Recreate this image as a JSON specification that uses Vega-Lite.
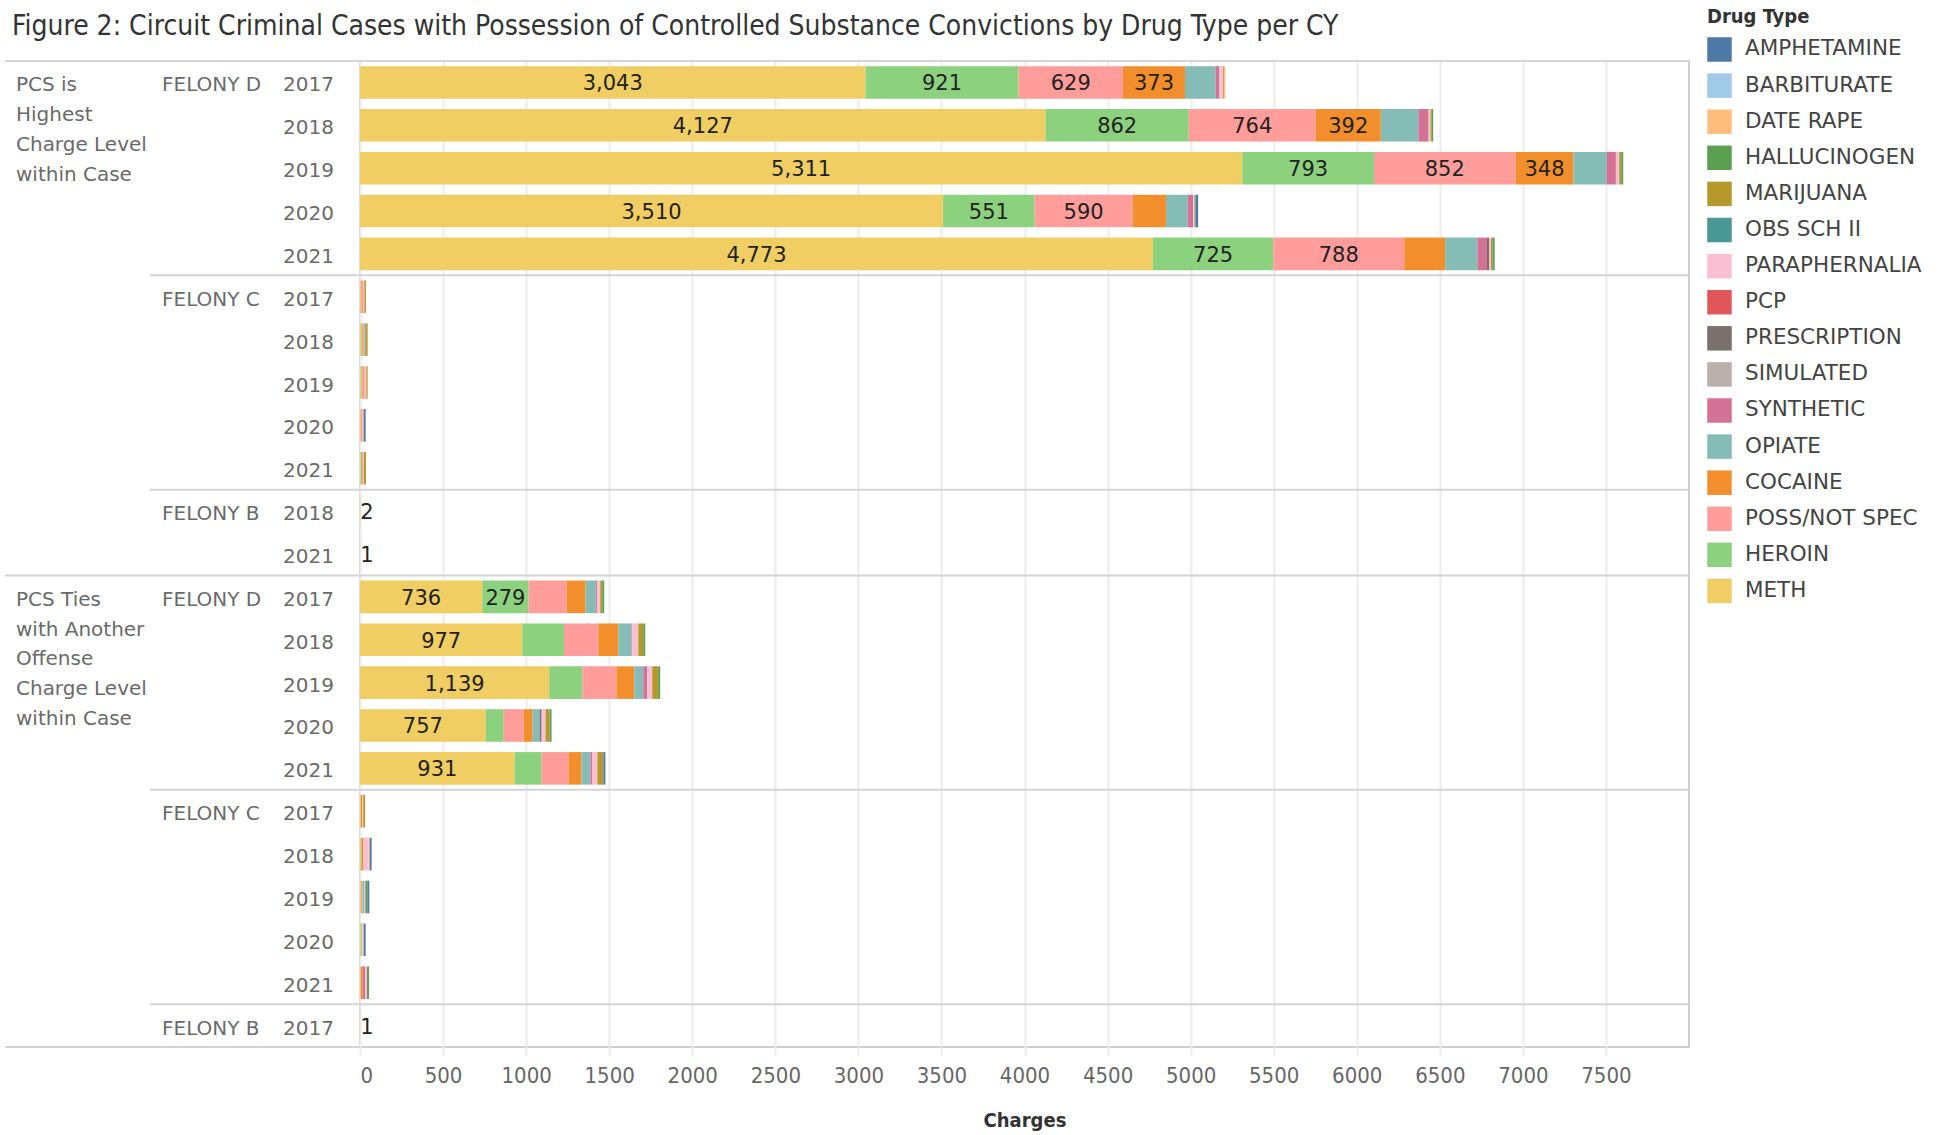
{
  "$schema": "https://vega.github.io/schema/vega-lite/v6.json",
  "padding": {"left": 4, "top": 7, "right": 0, "bottom": 0},
  "title": {
    "text": "Figure 2: Circuit Criminal Cases with Possession of Controlled Substance Convictions by Drug Type per CY",
    "anchor": "start", "frame": "bounds", "dx": 8, "offset": -34.5,
    "font": "DejaVu Sans Condensed", "fontSize": 28, "fontWeight": "normal", "color": "#333333"
  },
  "datasets": {
    "sections": [
      {"key": "H|D|2017", "label": "FELONY D"},
      {"key": "H|C|2017", "label": "FELONY C"},
      {"key": "H|B|2018", "label": "FELONY B"},
      {"key": "T|D|2017", "label": "FELONY D"},
      {"key": "T|C|2017", "label": "FELONY C"},
      {"key": "T|B|2017", "label": "FELONY B"}
    ],
    "groups": [
      {"key": "H|D|2017", "label": "PCS is\nHighest\nCharge Level\nwithin Case"},
      {"key": "T|D|2017", "label": "PCS Ties\nwith Another\nOffense\nCharge Level\nwithin Case"}
    ],
    "bottom": [{"key": "T|B|2017"}],
    "main": [
      {"key": "H|D|2017", "yr": "2017", "drug": "METH", "n": 3043},
      {"key": "H|D|2017", "yr": "2017", "drug": "HEROIN", "n": 921},
      {"key": "H|D|2017", "yr": "2017", "drug": "POSS/NOT SPEC", "n": 629},
      {"key": "H|D|2017", "yr": "2017", "drug": "COCAINE", "n": 373},
      {"key": "H|D|2017", "yr": "2017", "drug": "OPIATE", "n": 185},
      {"key": "H|D|2017", "yr": "2017", "drug": "SYNTHETIC", "n": 20},
      {"key": "H|D|2017", "yr": "2017", "drug": "PARAPHERNALIA", "n": 25},
      {"key": "H|D|2017", "yr": "2017", "drug": "MARIJUANA", "n": 5},
      {"key": "H|D|2017", "yr": "2017", "drug": "DATE RAPE", "n": 8},
      {"key": "H|D|2018", "yr": "2018", "drug": "METH", "n": 4127},
      {"key": "H|D|2018", "yr": "2018", "drug": "HEROIN", "n": 862},
      {"key": "H|D|2018", "yr": "2018", "drug": "POSS/NOT SPEC", "n": 764},
      {"key": "H|D|2018", "yr": "2018", "drug": "COCAINE", "n": 392},
      {"key": "H|D|2018", "yr": "2018", "drug": "OPIATE", "n": 226},
      {"key": "H|D|2018", "yr": "2018", "drug": "SYNTHETIC", "n": 58},
      {"key": "H|D|2018", "yr": "2018", "drug": "PRESCRIPTION", "n": 3},
      {"key": "H|D|2018", "yr": "2018", "drug": "PARAPHERNALIA", "n": 12},
      {"key": "H|D|2018", "yr": "2018", "drug": "MARIJUANA", "n": 8},
      {"key": "H|D|2018", "yr": "2018", "drug": "HALLUCINOGEN", "n": 8},
      {"key": "H|D|2019", "yr": "2019", "drug": "METH", "n": 5311},
      {"key": "H|D|2019", "yr": "2019", "drug": "HEROIN", "n": 793},
      {"key": "H|D|2019", "yr": "2019", "drug": "POSS/NOT SPEC", "n": 852},
      {"key": "H|D|2019", "yr": "2019", "drug": "COCAINE", "n": 348},
      {"key": "H|D|2019", "yr": "2019", "drug": "OPIATE", "n": 200},
      {"key": "H|D|2019", "yr": "2019", "drug": "SYNTHETIC", "n": 55},
      {"key": "H|D|2019", "yr": "2019", "drug": "PCP", "n": 3},
      {"key": "H|D|2019", "yr": "2019", "drug": "PARAPHERNALIA", "n": 18},
      {"key": "H|D|2019", "yr": "2019", "drug": "MARIJUANA", "n": 12},
      {"key": "H|D|2019", "yr": "2019", "drug": "HALLUCINOGEN", "n": 12},
      {"key": "H|D|2020", "yr": "2020", "drug": "METH", "n": 3510},
      {"key": "H|D|2020", "yr": "2020", "drug": "HEROIN", "n": 551},
      {"key": "H|D|2020", "yr": "2020", "drug": "POSS/NOT SPEC", "n": 590},
      {"key": "H|D|2020", "yr": "2020", "drug": "COCAINE", "n": 201},
      {"key": "H|D|2020", "yr": "2020", "drug": "OPIATE", "n": 131},
      {"key": "H|D|2020", "yr": "2020", "drug": "SYNTHETIC", "n": 33},
      {"key": "H|D|2020", "yr": "2020", "drug": "PARAPHERNALIA", "n": 8},
      {"key": "H|D|2020", "yr": "2020", "drug": "HALLUCINOGEN", "n": 6},
      {"key": "H|D|2020", "yr": "2020", "drug": "AMPHETAMINE", "n": 15},
      {"key": "H|D|2021", "yr": "2021", "drug": "METH", "n": 4773},
      {"key": "H|D|2021", "yr": "2021", "drug": "HEROIN", "n": 725},
      {"key": "H|D|2021", "yr": "2021", "drug": "POSS/NOT SPEC", "n": 788},
      {"key": "H|D|2021", "yr": "2021", "drug": "COCAINE", "n": 246},
      {"key": "H|D|2021", "yr": "2021", "drug": "OPIATE", "n": 194},
      {"key": "H|D|2021", "yr": "2021", "drug": "SYNTHETIC", "n": 58},
      {"key": "H|D|2021", "yr": "2021", "drug": "PRESCRIPTION", "n": 12},
      {"key": "H|D|2021", "yr": "2021", "drug": "PARAPHERNALIA", "n": 12},
      {"key": "H|D|2021", "yr": "2021", "drug": "MARIJUANA", "n": 8},
      {"key": "H|D|2021", "yr": "2021", "drug": "HALLUCINOGEN", "n": 14},
      {"key": "H|C|2017", "yr": "2017", "drug": "METH", "n": 6},
      {"key": "H|C|2017", "yr": "2017", "drug": "POSS/NOT SPEC", "n": 12},
      {"key": "H|C|2017", "yr": "2017", "drug": "PARAPHERNALIA", "n": 8},
      {"key": "H|C|2017", "yr": "2017", "drug": "MARIJUANA", "n": 10},
      {"key": "H|C|2018", "yr": "2018", "drug": "METH", "n": 8},
      {"key": "H|C|2018", "yr": "2018", "drug": "HEROIN", "n": 4},
      {"key": "H|C|2018", "yr": "2018", "drug": "POSS/NOT SPEC", "n": 10},
      {"key": "H|C|2018", "yr": "2018", "drug": "COCAINE", "n": 6},
      {"key": "H|C|2018", "yr": "2018", "drug": "OPIATE", "n": 8},
      {"key": "H|C|2018", "yr": "2018", "drug": "MARIJUANA", "n": 10},
      {"key": "H|C|2019", "yr": "2019", "drug": "METH", "n": 8},
      {"key": "H|C|2019", "yr": "2019", "drug": "HEROIN", "n": 4},
      {"key": "H|C|2019", "yr": "2019", "drug": "POSS/NOT SPEC", "n": 12},
      {"key": "H|C|2019", "yr": "2019", "drug": "COCAINE", "n": 4},
      {"key": "H|C|2019", "yr": "2019", "drug": "PARAPHERNALIA", "n": 10},
      {"key": "H|C|2019", "yr": "2019", "drug": "MARIJUANA", "n": 8},
      {"key": "H|C|2020", "yr": "2020", "drug": "METH", "n": 6},
      {"key": "H|C|2020", "yr": "2020", "drug": "POSS/NOT SPEC", "n": 10},
      {"key": "H|C|2020", "yr": "2020", "drug": "PARAPHERNALIA", "n": 6},
      {"key": "H|C|2020", "yr": "2020", "drug": "AMPHETAMINE", "n": 12},
      {"key": "H|C|2021", "yr": "2021", "drug": "METH", "n": 6},
      {"key": "H|C|2021", "yr": "2021", "drug": "HEROIN", "n": 6},
      {"key": "H|C|2021", "yr": "2021", "drug": "POSS/NOT SPEC", "n": 6},
      {"key": "H|C|2021", "yr": "2021", "drug": "PARAPHERNALIA", "n": 6},
      {"key": "H|C|2021", "yr": "2021", "drug": "MARIJUANA", "n": 12},
      {"key": "H|B|2018", "yr": "2018", "drug": "METH", "n": 2},
      {"key": "H|B|2021", "yr": "2021", "drug": "PARAPHERNALIA", "n": 1},
      {"key": "T|D|2017", "yr": "2017", "drug": "METH", "n": 736},
      {"key": "T|D|2017", "yr": "2017", "drug": "HEROIN", "n": 279},
      {"key": "T|D|2017", "yr": "2017", "drug": "POSS/NOT SPEC", "n": 229},
      {"key": "T|D|2017", "yr": "2017", "drug": "COCAINE", "n": 114},
      {"key": "T|D|2017", "yr": "2017", "drug": "OPIATE", "n": 62},
      {"key": "T|D|2017", "yr": "2017", "drug": "SYNTHETIC", "n": 6},
      {"key": "T|D|2017", "yr": "2017", "drug": "PARAPHERNALIA", "n": 20},
      {"key": "T|D|2017", "yr": "2017", "drug": "MARIJUANA", "n": 12},
      {"key": "T|D|2017", "yr": "2017", "drug": "HALLUCINOGEN", "n": 12},
      {"key": "T|D|2018", "yr": "2018", "drug": "METH", "n": 977},
      {"key": "T|D|2018", "yr": "2018", "drug": "HEROIN", "n": 251},
      {"key": "T|D|2018", "yr": "2018", "drug": "POSS/NOT SPEC", "n": 207},
      {"key": "T|D|2018", "yr": "2018", "drug": "COCAINE", "n": 120},
      {"key": "T|D|2018", "yr": "2018", "drug": "OPIATE", "n": 80},
      {"key": "T|D|2018", "yr": "2018", "drug": "SYNTHETIC", "n": 4},
      {"key": "T|D|2018", "yr": "2018", "drug": "PARAPHERNALIA", "n": 36},
      {"key": "T|D|2018", "yr": "2018", "drug": "MARIJUANA", "n": 30},
      {"key": "T|D|2018", "yr": "2018", "drug": "HALLUCINOGEN", "n": 12},
      {"key": "T|D|2019", "yr": "2019", "drug": "METH", "n": 1139},
      {"key": "T|D|2019", "yr": "2019", "drug": "HEROIN", "n": 199},
      {"key": "T|D|2019", "yr": "2019", "drug": "POSS/NOT SPEC", "n": 205},
      {"key": "T|D|2019", "yr": "2019", "drug": "COCAINE", "n": 108},
      {"key": "T|D|2019", "yr": "2019", "drug": "OPIATE", "n": 54},
      {"key": "T|D|2019", "yr": "2019", "drug": "SYNTHETIC", "n": 24},
      {"key": "T|D|2019", "yr": "2019", "drug": "PARAPHERNALIA", "n": 30},
      {"key": "T|D|2019", "yr": "2019", "drug": "MARIJUANA", "n": 36},
      {"key": "T|D|2019", "yr": "2019", "drug": "HALLUCINOGEN", "n": 12},
      {"key": "T|D|2020", "yr": "2020", "drug": "METH", "n": 757},
      {"key": "T|D|2020", "yr": "2020", "drug": "HEROIN", "n": 108},
      {"key": "T|D|2020", "yr": "2020", "drug": "POSS/NOT SPEC", "n": 120},
      {"key": "T|D|2020", "yr": "2020", "drug": "COCAINE", "n": 54},
      {"key": "T|D|2020", "yr": "2020", "drug": "OPIATE", "n": 42},
      {"key": "T|D|2020", "yr": "2020", "drug": "PRESCRIPTION", "n": 12},
      {"key": "T|D|2020", "yr": "2020", "drug": "PARAPHERNALIA", "n": 24},
      {"key": "T|D|2020", "yr": "2020", "drug": "MARIJUANA", "n": 24},
      {"key": "T|D|2020", "yr": "2020", "drug": "HALLUCINOGEN", "n": 12},
      {"key": "T|D|2021", "yr": "2021", "drug": "METH", "n": 931},
      {"key": "T|D|2021", "yr": "2021", "drug": "HEROIN", "n": 162},
      {"key": "T|D|2021", "yr": "2021", "drug": "POSS/NOT SPEC", "n": 162},
      {"key": "T|D|2021", "yr": "2021", "drug": "COCAINE", "n": 78},
      {"key": "T|D|2021", "yr": "2021", "drug": "OPIATE", "n": 54},
      {"key": "T|D|2021", "yr": "2021", "drug": "SYNTHETIC", "n": 12},
      {"key": "T|D|2021", "yr": "2021", "drug": "PARAPHERNALIA", "n": 30},
      {"key": "T|D|2021", "yr": "2021", "drug": "MARIJUANA", "n": 36},
      {"key": "T|D|2021", "yr": "2021", "drug": "AMPHETAMINE", "n": 12},
      {"key": "T|C|2017", "yr": "2017", "drug": "METH", "n": 5},
      {"key": "T|C|2017", "yr": "2017", "drug": "COCAINE", "n": 8},
      {"key": "T|C|2017", "yr": "2017", "drug": "PARAPHERNALIA", "n": 6},
      {"key": "T|C|2017", "yr": "2017", "drug": "MARIJUANA", "n": 12},
      {"key": "T|C|2018", "yr": "2018", "drug": "METH", "n": 6},
      {"key": "T|C|2018", "yr": "2018", "drug": "HEROIN", "n": 4},
      {"key": "T|C|2018", "yr": "2018", "drug": "COCAINE", "n": 8},
      {"key": "T|C|2018", "yr": "2018", "drug": "PARAPHERNALIA", "n": 34},
      {"key": "T|C|2018", "yr": "2018", "drug": "DATE RAPE", "n": 6},
      {"key": "T|C|2018", "yr": "2018", "drug": "AMPHETAMINE", "n": 12},
      {"key": "T|C|2019", "yr": "2019", "drug": "METH", "n": 6},
      {"key": "T|C|2019", "yr": "2019", "drug": "POSS/NOT SPEC", "n": 8},
      {"key": "T|C|2019", "yr": "2019", "drug": "OPIATE", "n": 10},
      {"key": "T|C|2019", "yr": "2019", "drug": "PARAPHERNALIA", "n": 8},
      {"key": "T|C|2019", "yr": "2019", "drug": "HALLUCINOGEN", "n": 12},
      {"key": "T|C|2019", "yr": "2019", "drug": "AMPHETAMINE", "n": 12},
      {"key": "T|C|2020", "yr": "2020", "drug": "METH", "n": 8},
      {"key": "T|C|2020", "yr": "2020", "drug": "HEROIN", "n": 6},
      {"key": "T|C|2020", "yr": "2020", "drug": "PARAPHERNALIA", "n": 8},
      {"key": "T|C|2020", "yr": "2020", "drug": "AMPHETAMINE", "n": 12},
      {"key": "T|C|2021", "yr": "2021", "drug": "METH", "n": 6},
      {"key": "T|C|2021", "yr": "2021", "drug": "COCAINE", "n": 8},
      {"key": "T|C|2021", "yr": "2021", "drug": "SYNTHETIC", "n": 16},
      {"key": "T|C|2021", "yr": "2021", "drug": "PARAPHERNALIA", "n": 12},
      {"key": "T|C|2021", "yr": "2021", "drug": "HALLUCINOGEN", "n": 12},
      {"key": "T|B|2017", "yr": "2017", "drug": "METH", "n": 1}
    ]
  },
  "spacing": 0,
  "bounds": "flush",
  "resolve": {"scale": {"y": "shared"}},
  "hconcat": [
    {
      "width": 145,
      "layer": [
        {
          "data": {"name": "groups"},
          "mark": {"type": "text", "align": "left", "baseline": "top", "dx": 11, "dy": -7, "lineBreak": "\n", "lineHeight": 29.7, "font": "DejaVu Sans", "fontSize": 20, "color": "#6a6a6a"},
          "encoding": {
            "y": {"field": "key", "type": "ordinal", "axis": null, "scale": {"domain": ["H|D|2017","H|D|2018","H|D|2019","H|D|2020","H|D|2021","H|C|2017","H|C|2018","H|C|2019","H|C|2020","H|C|2021","H|B|2018","H|B|2021","T|D|2017","T|D|2018","T|D|2019","T|D|2020","T|D|2021","T|C|2017","T|C|2018","T|C|2019","T|C|2020","T|C|2021","T|B|2017"]}},
            "x": {"value": 0},
            "text": {"field": "label", "type": "nominal"}
          }
        },
        {
          "data": {"name": "groups"},
          "mark": {"type": "rule", "color": "#d4d4d4", "strokeWidth": 2},
          "encoding": {"y": {"field": "key", "type": "ordinal", "bandPosition": 0, "axis": null}}
        },
        {
          "data": {"name": "bottom"},
          "mark": {"type": "rule", "color": "#d4d4d4", "strokeWidth": 2},
          "encoding": {"y": {"field": "key", "type": "ordinal", "bandPosition": 1, "axis": null}}
        }
      ]
    },
    {
      "width": 133,
      "layer": [
        {
          "data": {"name": "sections"},
          "mark": {"type": "text", "align": "left", "baseline": "middle", "dx": 12, "dy": 3, "font": "DejaVu Sans", "fontSize": 20, "color": "#6a6a6a"},
          "encoding": {
            "y": {"field": "key", "type": "ordinal", "axis": null},
            "x": {"value": 0},
            "text": {"field": "label", "type": "nominal"}
          }
        },
        {
          "data": {"name": "sections"},
          "mark": {"type": "rule", "color": "#d4d4d4", "strokeWidth": 2},
          "encoding": {"y": {"field": "key", "type": "ordinal", "bandPosition": 0, "axis": null}}
        },
        {
          "data": {"name": "bottom"},
          "mark": {"type": "rule", "color": "#d4d4d4", "strokeWidth": 2},
          "encoding": {"y": {"field": "key", "type": "ordinal", "bandPosition": 1, "axis": null}}
        }
      ]
    },
    {
      "width": 77,
      "layer": [
        {
          "data": {"name": "main"},
          "transform": [{"aggregate": [], "groupby": ["key", "yr"]}],
          "mark": {"type": "text", "align": "left", "baseline": "middle", "dy": 3, "font": "DejaVu Sans", "fontSize": 20, "color": "#6a6a6a"},
          "encoding": {
            "y": {"field": "key", "type": "ordinal", "axis": null},
            "x": {"value": 0},
            "text": {"field": "yr", "type": "nominal"}
          }
        },
        {
          "data": {"name": "sections"},
          "mark": {"type": "rule", "color": "#d4d4d4", "strokeWidth": 2},
          "encoding": {"y": {"field": "key", "type": "ordinal", "bandPosition": 0, "axis": null}}
        },
        {
          "data": {"name": "bottom"},
          "mark": {"type": "rule", "color": "#d4d4d4", "strokeWidth": 2},
          "encoding": {"y": {"field": "key", "type": "ordinal", "bandPosition": 1, "axis": null}}
        }
      ]
    },
    {
      "width": 1329,
      "view": {"stroke": "#cfcfcf", "strokeWidth": 2},
      "data": {"name": "main"},
      "transform": [
        {"calculate": "indexof(['AMPHETAMINE','BARBITURATE','DATE RAPE','HALLUCINOGEN','MARIJUANA','OBS SCH II','PARAPHERNALIA','PCP','PRESCRIPTION','SIMULATED','SYNTHETIC','OPIATE','COCAINE','POSS/NOT SPEC','HEROIN','METH'], datum.drug)", "as": "ord"}
      ],
      "layer": [
        {
          "mark": {"type": "bar", "height": {"band": 0.76}},
          "encoding": {
            "y": {"field": "key", "type": "ordinal", "axis": null},
            "x": {
              "field": "n", "type": "quantitative", "stack": "zero",
              "scale": {"domain": [0, 8000], "nice": false, "zero": true},
              "axis": {
                "values": [0, 500, 1000, 1500, 2000, 2500, 3000, 3500, 4000, 4500, 5000, 5500, 6000, 6500, 7000, 7500],
                "format": "d",
                "grid": true, "gridColor": "#ececec", "gridWidth": 2,
                "domain": false, "ticks": true, "tickColor": "#ececec", "tickWidth": 2, "tickSize": 8,
                "labelFont": "DejaVu Sans Condensed", "labelFontSize": 22, "labelColor": "#666666", "labelPadding": 10, "labelFlush": true,
                "title": "Charges", "titleFont": "DejaVu Sans Condensed", "titleFontSize": 20, "titleFontWeight": "bold", "titleColor": "#333333", "titlePadding": 24
              }
            },
            "color": {
              "field": "drug", "type": "nominal",
              "scale": {
                "domain": ["AMPHETAMINE","BARBITURATE","DATE RAPE","HALLUCINOGEN","MARIJUANA","OBS SCH II","PARAPHERNALIA","PCP","PRESCRIPTION","SIMULATED","SYNTHETIC","OPIATE","COCAINE","POSS/NOT SPEC","HEROIN","METH"],
                "range": ["#4e79a7","#a0cbe8","#ffbe7d","#59a14f","#b6992d","#499894","#fabfd2","#e15759","#79706e","#bab0ac","#d37295","#86bcb6","#f28e2b","#ff9d9a","#8cd17d","#f1ce63"]
              },
              "legend": {
                "title": "Drug Type", "orient": "none", "legendX": 1702, "legendY": -54,
                "titleFont": "DejaVu Sans Condensed", "titleFontSize": 20, "titleFontWeight": "bold", "titleColor": "#333333", "titlePadding": 10,
                "labelFont": "DejaVu Sans", "labelFontSize": 21.5, "labelColor": "#444444", "labelOffset": 13, "labelLimit": 0,
                "symbolType": "square", "symbolSize": 600, "symbolStrokeWidth": 0, "symbolOpacity": 1,
                "rowPadding": 11.1, "padding": 0
              }
            },
            "order": {"field": "ord", "type": "quantitative", "sort": "descending"}
          }
        },
        {
          "transform": [{"filter": "indexof(datum.key, '|B|') < 0"}],
          "mark": {"type": "text", "baseline": "middle", "align": "center", "dy": 2, "font": "DejaVu Sans", "fontSize": 21, "color": "#222222"},
          "encoding": {
            "y": {"field": "key", "type": "ordinal", "axis": null},
            "x": {"field": "n", "type": "quantitative", "stack": "zero", "bandPosition": 0.5},
            "detail": {"field": "drug", "type": "nominal"},
            "order": {"field": "ord", "type": "quantitative", "sort": "descending"},
            "text": {"condition": {"test": "datum.n >= 270", "field": "n", "type": "quantitative", "format": ","}, "value": ""}
          }
        },
        {
          "transform": [{"filter": "indexof(datum.key, '|B|') >= 0"}],
          "mark": {"type": "text", "baseline": "middle", "align": "left", "dy": 2, "font": "DejaVu Sans", "fontSize": 21, "color": "#222222"},
          "encoding": {
            "y": {"field": "key", "type": "ordinal", "axis": null},
            "x": {"field": "n", "type": "quantitative"},
            "text": {"field": "n", "type": "quantitative"}
          }
        },
        {
          "data": {"name": "sections"},
          "mark": {"type": "rule", "color": "#d4d4d4", "strokeWidth": 2},
          "encoding": {"y": {"field": "key", "type": "ordinal", "bandPosition": 0, "axis": null}}
        }
      ]
    }
  ],
  "config": {
    "view": {"stroke": null, "discreteHeight": {"step": 42.87}},
    "scale": {"bandPaddingInner": 0, "bandPaddingOuter": 0},
    "font": "DejaVu Sans"
  }
}
